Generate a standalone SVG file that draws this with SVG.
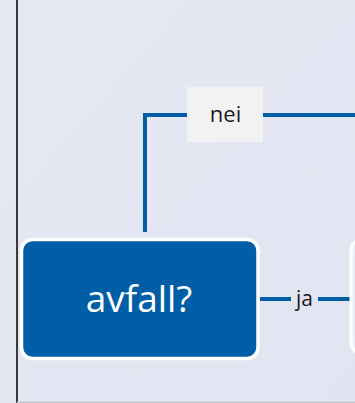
<svg xmlns="http://www.w3.org/2000/svg" width="355" height="403" viewBox="0 0 355 403">
<defs>
<linearGradient id="bg" x1="0" y1="0" x2="1" y2="1">
<stop offset="0" stop-color="#e6e8f3"/>
<stop offset="1" stop-color="#e1e5f1"/>
</linearGradient>
<style>
.conn{fill:none;stroke:#005ea6;stroke-width:4}
.lbl{font-family:"Open Sans","Liberation Sans",sans-serif;fill:#1a1a1a;text-anchor:middle}
.node{fill:#005ea6;stroke:#ffffff;stroke-width:3.5}
</style>
</defs>
<rect width="355" height="403" fill="url(#bg)"/>
<line x1="17" y1="0" x2="17" y2="403" stroke="#000" stroke-width="1.5"/>
<line x1="17" y1="402.2" x2="355" y2="402.2" stroke="#c4c6d0" stroke-width="1.5"/>
<g id="connectors">
<path class="conn" d="M145,232 V115 H355"/>
<rect x="187" y="87" width="76" height="55" fill="#f2f2f2"/>
<text class="lbl" x="225.5" y="122" font-size="22">nei</text>
<line class="conn" x1="260" y1="299" x2="291" y2="299"/>
<line class="conn" x1="318" y1="299" x2="350" y2="299"/>
<text class="lbl" x="304.5" y="306" font-size="21">ja</text>
</g>
<g id="node-avfall">
<rect class="node" x="21.5" y="239.5" width="236.5" height="119" rx="11"/>
<text x="139" y="312" font-family="Open Sans,'Liberation Sans',sans-serif" font-size="37" fill="#ffffff" text-anchor="middle">avfall?</text>
</g>
<g id="node-right">
<rect x="351" y="240" width="60" height="113" rx="10" fill="#e9eef7" stroke="#ffffff" stroke-width="3"/>
</g>
</svg>
